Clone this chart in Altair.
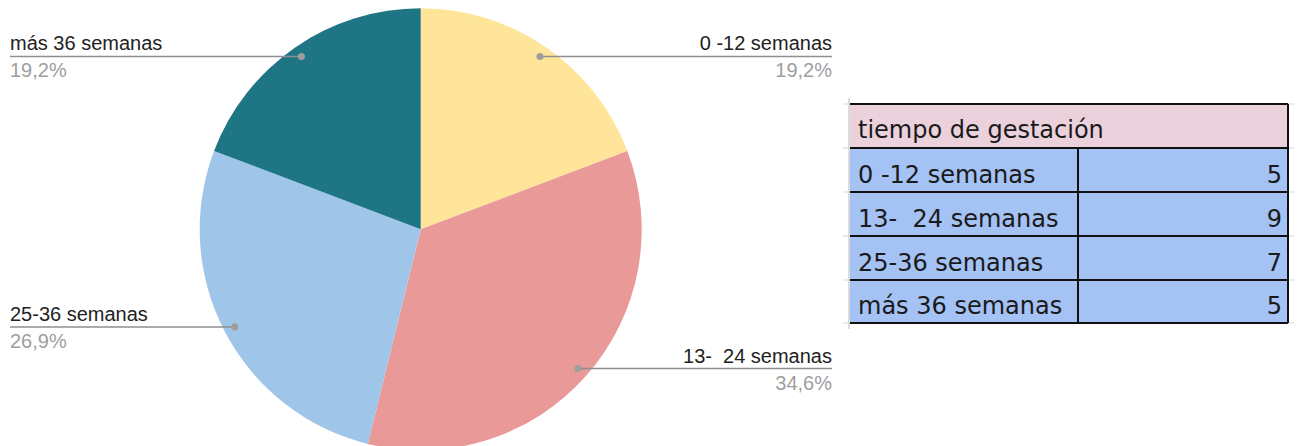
import altair as alt
import pandas as pd
import numpy as np

# ---------------- data ----------------
categories = ["0 -12 semanas", "13-  24 semanas", "25-36 semanas", "más 36 semanas"]
counts = [5, 9, 7, 5]
slice_colors = ["#FFE599", "#EA9999", "#9FC5E8", "#1E7584"]
table_title = "tiempo de gestación"

# ---------------- layout (page pixels) ----------------
W, H = 1286, 438
OX, OY = 8, 8
CX, CY, R = 420.7, 229.3, 221
DOT_R = 210
LEFT_X, RIGHT_X = 10, 832
LABEL_FONT = "Liberation Sans"
TABLE_FONT = "DejaVu Sans"

T_X0, T_XM, T_X1 = 850, 1078, 1288
T_ROWS = [104, 148, 192, 236, 280, 323]
GRID_X0, GRID_X1 = 843, 1294

xs = alt.Scale(domain=[OX, OX + W], range=[0, W], zero=False, nice=False)
ys = alt.Scale(domain=[OY, OY + H], range=[0, H], zero=False, nice=False)

# ---------------- pie data ----------------
df = pd.DataFrame({"cat": categories, "n": counts, "i": list(range(len(counts)))})
total = df["n"].sum()
df["frac"] = df["n"] / total
mid = (df["n"].cumsum() - df["n"] / 2) / total
ang = 2 * np.pi * mid
df["dot_x"] = CX + DOT_R * np.sin(ang)
df["dot_y"] = CY - DOT_R * np.cos(ang)
df["right"] = np.sin(ang) > 0
df["end_x"] = np.where(df["right"], RIGHT_X, LEFT_X)
df["pct"] = [f"{100 * f:.1f}".replace(".", ",") + "%" for f in df["frac"]]
df["label"] = [c.replace("  ", " \u00a0") for c in df["cat"]]

pie = alt.Chart(df).mark_arc(radius=R).encode(
    theta=alt.Theta("n:Q", stack=True),
    order=alt.Order("i:Q"),
    color=alt.Color("cat:N", scale=alt.Scale(domain=categories, range=slice_colors), legend=None),
    x=alt.value(CX - OX),
    y=alt.value(CY - OY),
)

leaders = alt.Chart(df).mark_rule(color="#8f8f8f", strokeWidth=1.5).encode(
    x=alt.X("dot_x:Q", scale=xs, axis=None),
    x2="end_x:Q",
    y=alt.Y("dot_y:Q", scale=ys, axis=None),
)
dots = alt.Chart(df).mark_circle(size=50, color="#9e9e9e", opacity=1).encode(
    x=alt.X("dot_x:Q", scale=xs, axis=None),
    y=alt.Y("dot_y:Q", scale=ys, axis=None),
)

dfr = df[df["right"]]
dfl = df[~df["right"]]

def labels(d, align):
    base = alt.Chart(d).encode(
        x=alt.X("end_x:Q", scale=xs, axis=None),
        y=alt.Y("dot_y:Q", scale=ys, axis=None),
    )
    name = base.mark_text(align=align, baseline="alphabetic", font=LABEL_FONT,
                          fontSize=20, color="#222222", dy=-6).encode(text="label:N")
    pct = base.mark_text(align=align, baseline="alphabetic", font=LABEL_FONT,
                         fontSize=20, color="#9e9e9e", dy=21).encode(text="pct:N")
    return name + pct

# ---------------- table ----------------
cells = [{"x": T_X0, "x2": T_X1, "y": T_ROWS[0], "y2": T_ROWS[1], "fill": "#EAD1DC"}]
for k in range(len(categories)):
    cells.append({"x": T_X0, "x2": T_XM, "y": T_ROWS[k + 1], "y2": T_ROWS[k + 2], "fill": "#A4C2F4"})
    cells.append({"x": T_XM, "x2": T_X1, "y": T_ROWS[k + 1], "y2": T_ROWS[k + 2], "fill": "#A4C2F4"})
cells_df = pd.DataFrame(cells)

rects = alt.Chart(cells_df).mark_rect().encode(
    x=alt.X("x:Q", scale=xs, axis=None), x2="x2:Q",
    y=alt.Y("y:Q", scale=ys, axis=None), y2="y2:Q",
    color=alt.Color("fill:N", scale=None),
)

grid_h = pd.DataFrame({"x": [GRID_X0] * len(T_ROWS), "x2": [GRID_X1] * len(T_ROWS), "y": T_ROWS})
grid_lines = alt.Chart(grid_h).mark_rule(color="#d6d6d6", strokeWidth=1).encode(
    x=alt.X("x:Q", scale=xs, axis=None), x2="x2:Q",
    y=alt.Y("y:Q", scale=ys, axis=None),
)
grid_v = pd.DataFrame({"x": [T_X0 - 1], "y": [T_ROWS[0] - 6], "y2": [T_ROWS[-1] + 6]})
grid_vline = alt.Chart(grid_v).mark_rule(color="#d0d0d0", strokeWidth=1.5).encode(
    x=alt.X("x:Q", scale=xs, axis=None),
    y=alt.Y("y:Q", scale=ys, axis=None), y2="y2:Q",
)

black_h = pd.DataFrame({"x": [T_X0] * len(T_ROWS), "x2": [T_X1] * len(T_ROWS), "y": T_ROWS})
black_hlines = alt.Chart(black_h).mark_rule(color="#111111", strokeWidth=2).encode(
    x=alt.X("x:Q", scale=xs, axis=None), x2="x2:Q",
    y=alt.Y("y:Q", scale=ys, axis=None),
)
black_v = pd.DataFrame({"x": [T_XM, T_X1], "y": [T_ROWS[1], T_ROWS[0]], "y2": [T_ROWS[-1], T_ROWS[-1]]})
black_vlines = alt.Chart(black_v).mark_rule(color="#111111", strokeWidth=2).encode(
    x=alt.X("x:Q", scale=xs, axis=None),
    y=alt.Y("y:Q", scale=ys, axis=None), y2="y2:Q",
)

txt = [{"x": T_X0 + 8, "y": T_ROWS[1] - 10, "t": table_title, "a": "l"}]
for k, (c, n) in enumerate(zip(categories, counts)):
    txt.append({"x": T_X0 + 8, "y": T_ROWS[k + 2] - 9, "t": c.replace("  ", " \u00a0"), "a": "l"})
    txt.append({"x": T_X1 - 6, "y": T_ROWS[k + 2] - 9, "t": str(n), "a": "r"})
txt_df = pd.DataFrame(txt)

def table_text(d, align):
    return alt.Chart(d).mark_text(align=align, baseline="alphabetic", font=TABLE_FONT,
                                  fontSize=24, color="#1a1a1a").encode(
        x=alt.X("x:Q", scale=xs, axis=None),
        y=alt.Y("y:Q", scale=ys, axis=None),
        text="t:N",
    )

chart = alt.layer(
    pie, leaders, dots, labels(dfr, "right"), labels(dfl, "left"),
    rects, grid_lines, grid_vline, black_hlines, black_vlines,
    table_text(txt_df[txt_df["a"] == "l"], "left"),
    table_text(txt_df[txt_df["a"] == "r"], "right"),
).properties(
    width=W, height=H, padding=0,
    autosize=alt.AutoSizeParams(type="none"),
).configure_view(stroke=None)

chart.save("out.html", embed_options={"renderer": "svg", "actions": False})
